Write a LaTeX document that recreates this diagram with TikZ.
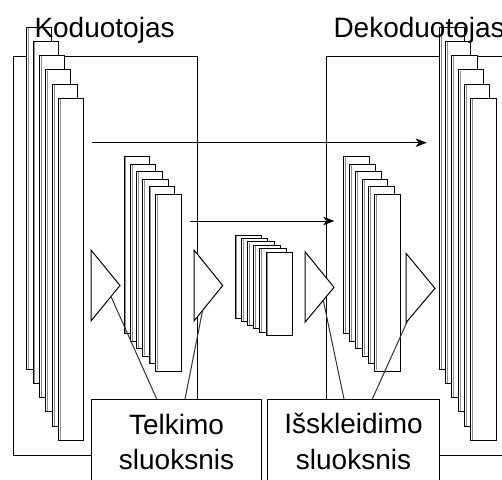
\documentclass[tikz,border=0pt]{standalone}
\usepackage{fontspec}
\setmainfont{Liberation Sans}
\usetikzlibrary{arrows.meta,calc}
\begin{document}
\begin{tikzpicture}[x=1pt,y=-1pt,line width=1pt,
  frame/.style={draw=black,fill=white,line width=1pt},
  layer/.style={draw=black,fill=white,line width=1pt,inner sep=0pt,outer sep=0pt,anchor=north west},
  shade/.style={draw=black!45,line width=0.9pt},
  lbl/.style={inner sep=0pt,font=\fontsize{28}{34}\selectfont,anchor=base},
  conn/.style={draw=black!80,line width=1pt},
  arr/.style={draw=black,line width=1pt,-{Stealth[length=11pt,width=8.5pt,inset=3pt]}}
]
\useasboundingbox (0,0) rectangle (502,479);

% outer frames
\draw[frame] (13,56) rectangle (197.5,455.7);
\draw[frame] (326.3,56) rectangle (540,455.7);

% big encoder stack
\foreach \i in {0,...,5}{
  \pgfmathsetmacro\xl{26.7+6.4*\i}
  \pgfmathsetmacro\yt{27.3+14.2*\i}
  \node[layer,minimum width=25,minimum height=342] (eb\i) at (\xl,\yt) {};
  \draw[shade] ([xshift=1.8pt,yshift=-0.6pt]eb\i.north west) -- ([xshift=1.8pt,yshift=0.6pt]eb\i.south west);
}
% big decoder stack
\foreach \i in {0,...,5}{
  \pgfmathsetmacro\xl{439.3+6.28*\i}
  \pgfmathsetmacro\yt{27.3+14.2*\i}
  \node[layer,minimum width=25.3,minimum height=342] (db\i) at (\xl,\yt) {};
  \draw[shade] ([xshift=1.8pt,yshift=-0.6pt]db\i.north west) -- ([xshift=1.8pt,yshift=0.6pt]db\i.south west);
}
% middle encoder stack
\foreach \i in {0,...,5}{
  \pgfmathsetmacro\xl{124+6.27*\i}
  \pgfmathsetmacro\yt{156.7+7.46*\i}
  \node[layer,minimum width=25.7,minimum height=177] (em\i) at (\xl,\yt) {};
  \draw[shade] ([xshift=1.8pt,yshift=-0.6pt]em\i.north west) -- ([xshift=1.8pt,yshift=0.6pt]em\i.south west);
}
% middle decoder stack
\foreach \i in {0,...,5}{
  \pgfmathsetmacro\xl{343.3+6.33*\i}
  \pgfmathsetmacro\yt{156.7+7.46*\i}
  \node[layer,minimum width=25.7,minimum height=177] (dm\i) at (\xl,\yt) {};
  \draw[shade] ([xshift=1.8pt,yshift=-0.6pt]dm\i.north west) -- ([xshift=1.8pt,yshift=0.6pt]dm\i.south west);
}
% bottleneck stack
\foreach \i in {0,...,5}{
  \pgfmathsetmacro\xl{235+6.2*\i}
  \pgfmathsetmacro\yt{235+3.46*\i}
  \node[layer,minimum width=26.7,minimum height=83.4] (bn\i) at (\xl,\yt) {};
  \draw[shade] ([xshift=1.8pt,yshift=-0.6pt]bn\i.north west) -- ([xshift=1.8pt,yshift=0.6pt]bn\i.south west);
}

% triangles
\coordinate (et1t) at (91,250);  \coordinate (et1a) at (120,285.5);  \coordinate (et1b) at (91,321);
\coordinate (et2t) at (194,250); \coordinate (et2a) at (222.7,285.5); \coordinate (et2b) at (194,321);
\coordinate (dt1t) at (305,251.7); \coordinate (dt1a) at (334,287.3); \coordinate (dt1b) at (305,322.3);
\coordinate (dt2t) at (406,253.3); \coordinate (dt2a) at (435,288.3); \coordinate (dt2b) at (406,322.7);
\draw[frame,line join=miter] (et1t) -- (et1a) -- (et1b) -- cycle;
\draw[frame,line join=miter] (et2t) -- (et2a) -- (et2b) -- cycle;
\draw[frame,line join=miter] (dt1t) -- (dt1a) -- (dt1b) -- cycle;
\draw[frame,line join=miter] (dt2t) -- (dt2a) -- (dt2b) -- cycle;

% skip connections
\coordinate (a1s) at (91.7,142.7);  \coordinate (a1e) at (426.7,142.7);
\coordinate (a2s) at (190,221);     \coordinate (a2e) at (334.3,221);
\draw[arr] (a1s) -- (a1e);
\draw[arr] (a2s) -- (a2e);

% label boxes
\node[layer,minimum width=170.7,minimum height=100] (pool) at (91,399) {};
\node[layer,minimum width=172,minimum height=100] (unpool) at (267.3,399) {};

% pointers
\draw[conn] ($(pool.north west)+(65.7,0)$) -- ($(et1a)!0.31!(et1b)$);
\draw[conn] ($(pool.north west)+(94,0)$) -- ($(et2a)!0.70!(et2b)$);
\draw[conn] ($(unpool.north west)+(76.7,0)$) -- ($(dt1a)!0.37!(dt1b)$);
\draw[conn] ($(unpool.north west)+(105,0)$) -- ($(dt2a)!0.95!(dt2b)$);

% texts
\node[lbl,anchor=base west] (enclbl) at (34,37) {Koduotojas};
\node[lbl,anchor=base west] (declbl) at (333,37) {Dekoduotojas};
\node[lbl] (pool1) at (176.5,434) {Telkimo};
\node[lbl] (pool2) at (176.5,469) {sluoksnis};
\node[lbl] (unpool1) at (353.5,433) {Išskleidimo};
\node[lbl] (unpool2) at (353.5,469) {sluoksnis};
\end{tikzpicture}
\end{document}
